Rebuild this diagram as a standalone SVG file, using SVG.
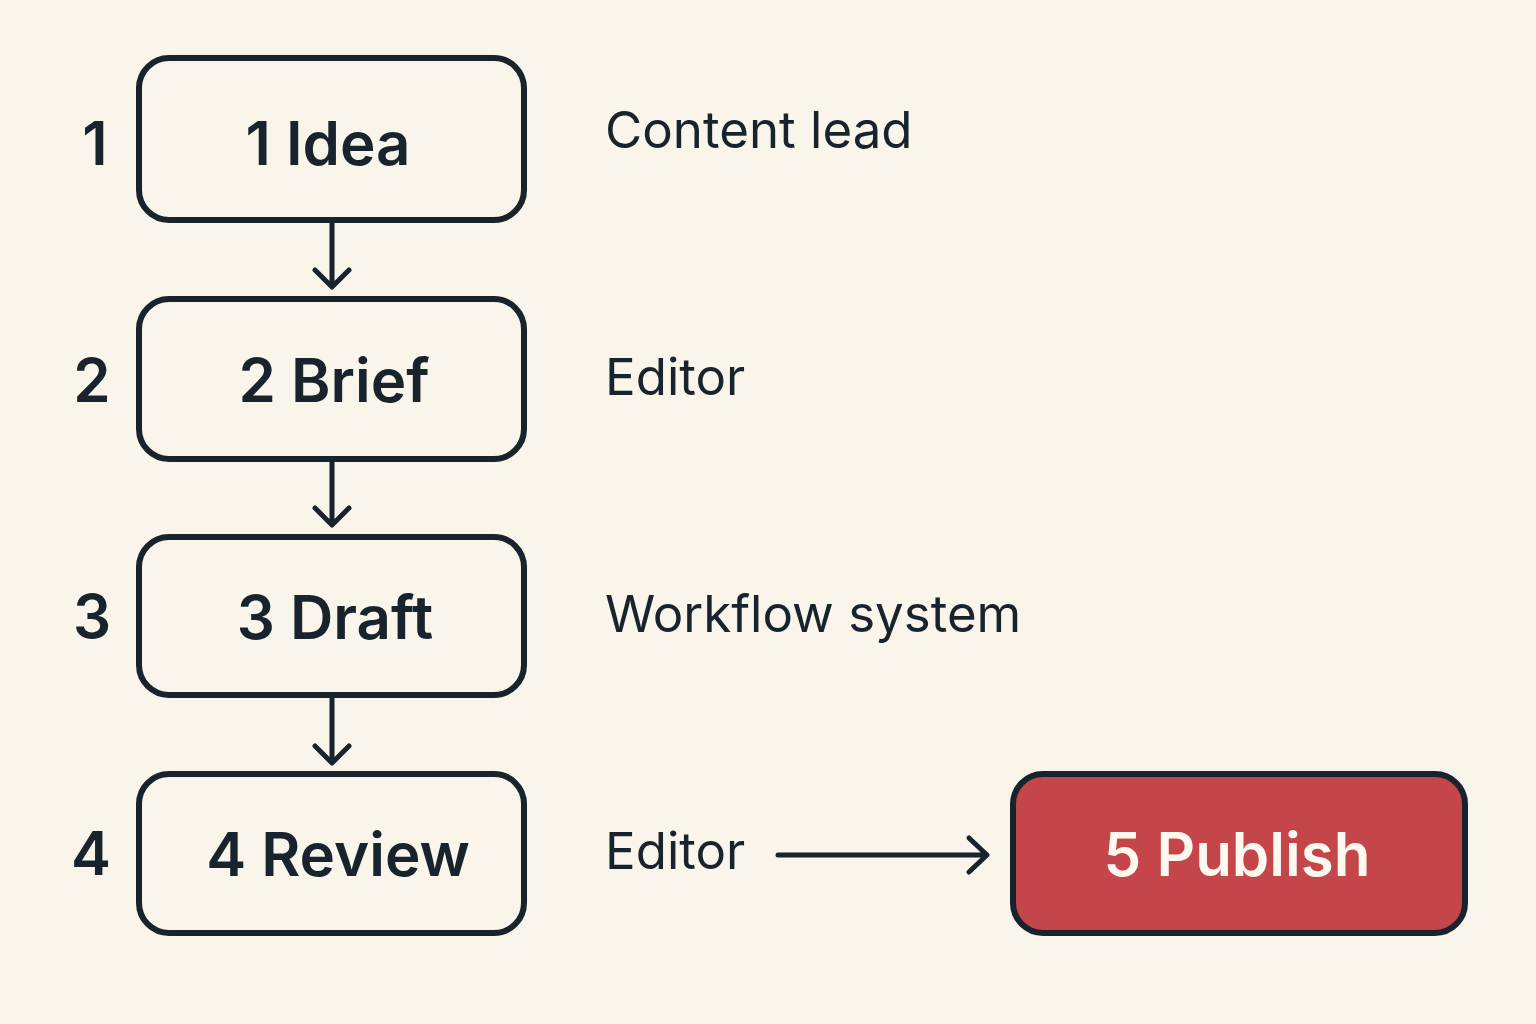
<svg xmlns="http://www.w3.org/2000/svg" width="1536" height="1024" viewBox="0 0 1536 1024">
<defs>
<style>
.bg{fill:#faf5eb}
.box{fill:#faf5eb;stroke:#18232d;stroke-width:6}
.pub{fill:#c4464a;stroke:#18232d;stroke-width:6}
.t{font-family:Inter,"Liberation Sans",sans-serif;font-weight:600;font-size:60px;fill:#18232d;text-anchor:middle}
.tw{font-family:Inter,"Liberation Sans",sans-serif;font-weight:600;font-size:60px;fill:#fff8ee;text-anchor:middle}
.n{font-family:Inter,"Liberation Sans",sans-serif;font-weight:600;font-size:60px;fill:#18232d;text-anchor:middle}
.r{font-family:Inter,"Liberation Sans",sans-serif;font-weight:400;font-size:51px;fill:#18232d}
.c{fill:none;stroke:#18232d;stroke-width:5;stroke-linecap:round;stroke-linejoin:round}
</style>
</defs>
<rect class="bg" x="0" y="0" width="1536" height="1024"/>
<g id="n1"><rect class="box" x="139" y="58" width="385" height="162" rx="30"/><text class="t" x="328" y="165">1 Idea</text></g>
<g id="n2"><rect class="box" x="139" y="299" width="385" height="160" rx="30"/><text class="t" x="334" y="402">2 Brief</text></g>
<g id="n3"><rect class="box" x="139" y="537" width="385" height="158" rx="30"/><text class="t" x="335" y="639">3 Draft</text></g>
<g id="n4"><rect class="box" x="139" y="774" width="385" height="159" rx="30"/><text class="t" x="338" y="876">4 Review</text></g>
<g id="n5"><rect class="pub" x="1013" y="774" width="452" height="159" rx="30"/><text class="tw" x="1237" y="876">5 Publish</text></g>
<g id="labels">
<text class="n" x="95" y="165">1</text>
<text class="n" x="92" y="402">2</text>
<text class="n" x="92" y="638">3</text>
<text class="n" x="91" y="875">4</text>
<text class="r" x="605" y="148">Content lead</text>
<text class="r" x="605" y="395">Editor</text>
<text class="r" x="605" y="632">Workflow system</text>
<text class="r" x="605" y="869">Editor</text>
</g>
<g id="connectors">
<path class="c" d="M332 223V286M315 270L332 287L349 270"/>
<path class="c" d="M332 462V524M315 508L332 525L349 508"/>
<path class="c" d="M332 698V762M315 746L332 763L349 746"/>
<path class="c" d="M778 855H986M969 838L987 855L969 872"/>
</g>
</svg>
